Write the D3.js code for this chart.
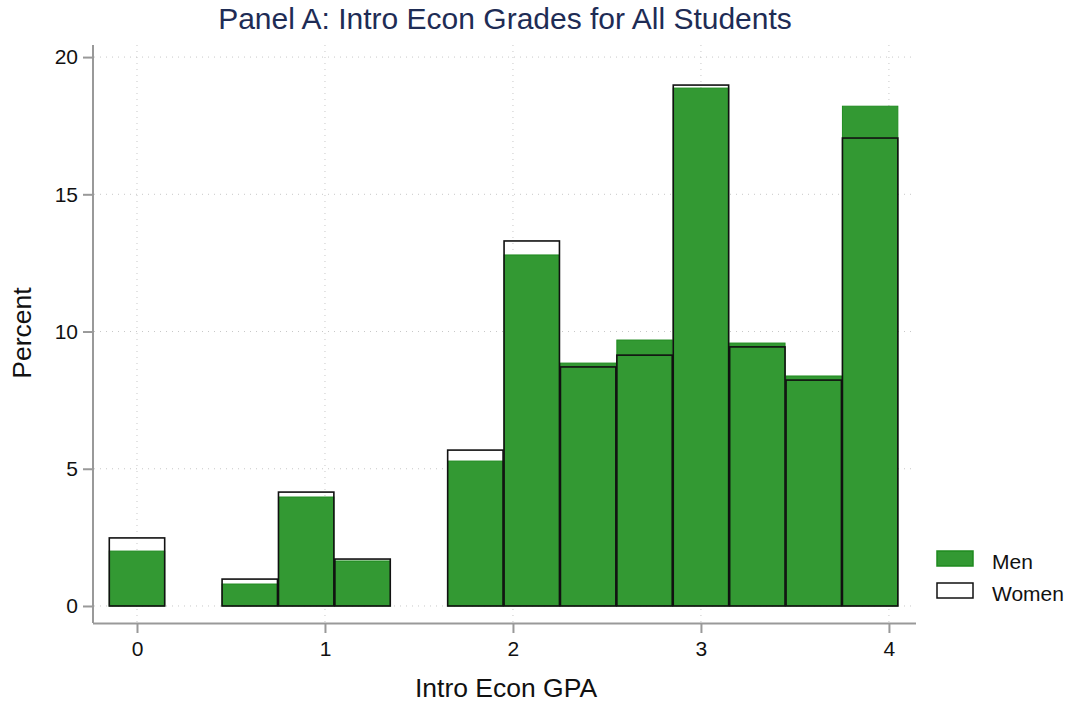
<!DOCTYPE html>
<html><head><meta charset="utf-8">
<script src="https://cdn.jsdelivr.net/npm/d3@7"></script>
<style>body{margin:0;background:#fff;font-family:Arial,"Liberation Sans",sans-serif;}</style>
</head><body><svg id="c" width="1070" height="703"></svg>
<script>
const binStarts = [-0.15, 0.45, 0.75, 1.05, 1.65, 1.95, 2.25, 2.55, 2.85, 3.15, 3.45, 3.75];
const binWidth = 0.3;
const men   = [2.00, 0.80, 3.97, 1.64, 5.28, 12.79, 8.85, 9.69, 18.87, 9.58, 8.38, 18.21];
const women = [2.48, 0.98, 4.15, 1.71, 5.68, 13.30, 8.71, 9.14, 18.98, 9.44, 8.23, 17.05];
const xTicks = [0, 1, 2, 3, 4];
const yTicks = [0, 5, 10, 15, 20];
const series = ["Men", "Women"];

const svg = d3.select("#c");
const x = d3.scaleLinear().domain([-0.234, 4.144]).range([93, 916]);
const y = d3.scaleLinear().domain([-0.62, 20.44]).range([623, 45]);
const green = "#339933";
const font = "Arial, 'Liberation Sans', sans-serif";

// grid
svg.append("g").selectAll("line").data(yTicks).join("line")
  .attr("x1", 94).attr("x2", 916).attr("y1", d => y(d)).attr("y2", d => y(d))
  .attr("stroke", "#c8c8c8").attr("stroke-width", 1).attr("stroke-dasharray", "1,5");
svg.append("g").selectAll("line").data(xTicks).join("line")
  .attr("y1", 45).attr("y2", 622).attr("x1", d => x(d)).attr("x2", d => x(d))
  .attr("stroke", "#c8c8c8").attr("stroke-width", 1).attr("stroke-dasharray", "1,5");

// men bars
svg.append("g").selectAll("rect").data(men).join("rect")
  .attr("x", (d, i) => x(binStarts[i]) + 0.5)
  .attr("width", (d, i) => x(binStarts[i] + binWidth) - x(binStarts[i]) - 1)
  .attr("y", d => y(d)).attr("height", d => y(0) - y(d))
  .attr("fill", green).attr("stroke", "#1f8a1f").attr("stroke-width", 1);

// women outlines
svg.append("g").selectAll("rect").data(women).join("rect")
  .attr("x", (d, i) => x(binStarts[i]) + 0.5)
  .attr("width", (d, i) => x(binStarts[i] + binWidth) - x(binStarts[i]) - 1)
  .attr("y", d => y(d)).attr("height", d => y(0) - y(d))
  .attr("fill", "none").attr("stroke", "#111").attr("stroke-width", 1.6);

// axes
const xAxis = svg.append("g").attr("transform", "translate(0,623)")
  .call(d3.axisBottom(x).tickValues(xTicks).tickSize(10).tickPadding(8).tickFormat(d3.format("d")));
xAxis.select(".domain").attr("d", "M93,0.5H916").attr("stroke", "#999").attr("stroke-width", 2);
const yAxis = svg.append("g").attr("transform", "translate(93,0)")
  .call(d3.axisLeft(y).tickValues(yTicks).tickSize(10).tickPadding(5).tickFormat(d3.format("d")));
yAxis.select(".domain").attr("d", "M0,45V623").attr("stroke", "#999").attr("stroke-width", 2);
svg.selectAll(".tick line").attr("stroke", "#999").attr("stroke-width", 2);
xAxis.attr("font-size", 21).attr("font-family", font);
yAxis.attr("font-size", 21).attr("font-family", font);
svg.selectAll(".tick text").style("font-size", "21px").attr("fill", "#111");

// labels
svg.append("text").attr("x", 505).attr("y", 29).attr("text-anchor", "middle")
  .style("font-size", "30px").style("font-family", font).attr("fill", "#1e2c55")
  .text("Panel A: Intro Econ Grades for All Students");
svg.append("text").attr("x", 506).attr("y", 697).attr("text-anchor", "middle")
  .style("font-size", "26.5px").style("font-family", font).attr("fill", "#111").text("Intro Econ GPA");
svg.append("text").attr("transform", "translate(31,333) rotate(-90)").attr("text-anchor", "middle")
  .style("font-size", "26.5px").style("font-family", font).attr("fill", "#111").text("Percent");

// legend
const lg = svg.append("g").selectAll("g").data(series).join("g")
  .attr("transform", (d, i) => `translate(937,${551 + i * 32})`);
lg.append("rect").attr("width", 36).attr("height", 15)
  .attr("fill", (d, i) => i === 0 ? green : "#fff")
  .attr("stroke", (d, i) => i === 0 ? "#1f8a1f" : "#111").attr("stroke-width", 1.5);
lg.append("text").attr("x", 55).attr("y", 18).style("font-size", "21px").style("font-family", font)
  .attr("fill", "#111").text(d => d);
</script></body></html>
